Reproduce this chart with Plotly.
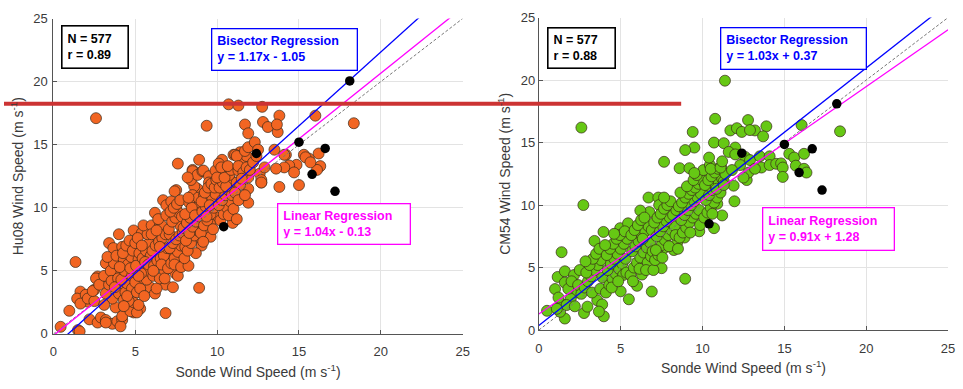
import plotly.graph_objects as go

# ---------------- data ----------------
# Left panel: Sonde vs Hu08
sonde_hu = [
    0.44, 1.5, 0.97, 1.35, 1.65, 1.45, 1.97, 2.1, 2.5, 2.7, 1.6, 2.2, 2.7, 2.9, 1.65, 2.1, 2.5, 2.4, 2.6, 2.8,
    3.3, 3.2, 3.4, 3.66, 3.9, 4.0, 3.2, 3.6, 3.2, 3.9, 3.8, 3.6, 4.0, 3.2, 3.4, 3.1, 3.5, 3.7, 3.3, 3.85, 3.55, 3.95, 3.1, 3.75,
    4.0, 4.2, 4.3, 4.6, 4.3, 4.9, 4.2, 4.1, 4.2, 4.7, 4.9, 4.6, 4.4, 4.5, 4.8, 4.15, 4.35, 4.55, 4.75, 4.25, 4.45, 4.65, 4.85, 4.05, 4.5, 4.8, 4.3, 4.7,
    4.9, 5.4, 5.0, 5.3, 5.1, 5.2, 5.2, 5.6, 5.0, 5.9, 5.1, 5.3, 5.5, 5.7, 5.8, 5.05, 5.25, 5.45, 5.65, 5.85, 5.15, 5.35, 5.55, 5.75, 5.95, 5.4, 5.6, 5.8, 5.2, 5.5,
    6.85, 6.2, 6.85, 6.1, 6.0, 6.5, 7.05, 6.7, 6.2, 6.9, 6.6, 6.0, 6.3, 6.5, 6.8, 6.15, 6.35, 6.55, 6.75, 6.95, 6.05, 6.25, 6.45, 6.65, 6.85, 6.4, 6.6, 6.8, 6.3, 6.9, 6.1, 6.5,
    7.3, 7.45, 7.6, 7.1, 7.75, 7.95, 7.6, 7.5, 7.4, 7.2, 7.5, 7.0, 7.2, 7.4, 7.6, 7.8, 7.1, 7.3, 7.5, 7.7, 7.9, 7.05, 7.25, 7.45, 7.65, 7.85, 7.15, 7.35, 7.55, 7.75, 7.95, 7.4, 7.8,
    8.25, 8.05, 8.9, 8.5, 8.8, 8.5, 8.6, 8.5, 8.3, 8.95, 9.05, 8.7, 8.0, 8.2, 8.4, 8.6, 8.8, 8.1, 8.3, 8.5, 8.7, 8.9, 8.15, 8.35, 8.55, 8.75, 8.95, 8.05, 8.45, 8.85, 8.25, 8.65, 8.4, 8.8,
    9.1, 9.9, 9.16, 9.5, 9.5, 9.9, 9.2, 9.7, 9.8, 9.85, 9.6, 9.2, 9.6, 9.36, 9.0, 9.2, 9.4, 9.6, 9.8, 9.1, 9.3, 9.5, 9.7, 9.9, 9.05, 9.25, 9.45, 9.65, 9.85, 9.35, 9.75, 9.15, 9.55, 9.95,
    10.3, 10.1, 10.5, 10.7, 10.9, 10.7, 10.9, 10.95, 10.2, 10.4, 10.6, 10.8, 10.1, 10.3, 10.5, 10.7, 10.9, 10.15, 10.35, 10.55, 10.75, 10.0, 10.45, 10.85, 10.25, 10.65, 10.7, 11.0,
    11.0, 11.4, 11.1, 11.5, 11.8, 11.3, 11.9, 11.9, 11.2, 11.2, 11.3, 11.7, 11.9, 11.2, 11.6, 11.4, 11.1, 11.5, 11.8, 11.3, 11.7, 12.6, 12.7, 12.7, 11.9, 12.0, 12.2, 12.4,
    2.6, 11.3, 12.75, 11.7, 11.9, 12.8, 13.1, 13.8, 13.7, 16.0, 18.35, 8.9, 13.5, 14.2, 15.3, 16.2, 15.6, 16.3, 16.1, 14.85, 14.4, 14.1, 14.7, 15.0, 13.8, 12.7, 12.3, 12.5, 13.65, 14.1, 13.6, 12.9, 15.4, 15.7, 8.2,
]
hu08 = [
    0.56, 0.3, 1.83, 5.7, 3.35, 2.8, 3.1, 2.55, 3.5, 4.55, 0.2, 1.15, 0.9, 1.3, 2.4, 2.8, 2.6, 3.4, 4.4, 3.9,
    4.5, 5.6, 7.2, 6.8, 4.9, 3.5, 1.1, 0.8, 0.9, 1.0, 2.1, 2.8, 3.2, 3.2, 3.9, 4.6, 5.0, 5.6, 6.1, 6.2, 4.2, 4.4, 2.3, 3.7,
    7.9, 6.9, 5.9, 4.8, 2.7, 1.7, 1.1, 0.6, 1.4, 1.8, 2.5, 2.6, 3.3, 4.0, 3.6, 4.3, 5.0, 5.5, 6.1, 6.4, 7.0, 7.4, 6.6, 5.3, 3.0, 4.6, 2.2, 5.2,
    8.2, 8.0, 7.2, 2.0, 1.7, 2.3, 5.9, 5.2, 4.1, 3.7, 3.3, 3.6, 4.4, 4.3, 5.0, 5.4, 6.4, 6.0, 6.6, 7.2, 7.6, 4.8, 3.0, 7.9, 6.2, 7.0, 5.7, 5.5, 4.6, 8.6,
    1.65, 3.2, 3.9, 4.6, 8.6, 8.6, 6.4, 10.6, 9.6, 10.2, 8.6, 7.9, 3.6, 4.4, 5.0, 5.4, 5.8, 6.0, 6.2, 6.8, 6.6, 7.0, 7.3, 7.6, 7.9, 9.1, 5.5, 4.4, 8.2, 9.4, 5.0, 6.9,
    3.7, 4.8, 4.6, 7.9, 8.6, 6.0, 13.5, 11.4, 11.3, 10.5, 9.9, 5.2, 5.6, 6.0, 6.5, 7.0, 6.8, 7.2, 7.5, 7.8, 8.0, 8.3, 8.9, 9.2, 9.6, 9.3, 9.7, 10.0, 10.3, 10.6, 8.4, 5.5, 5.3,
    5.4, 6.9, 3.65, 13.0, 11.5, 12.9, 11.7, 11.0, 10.4, 7.6, 7.0, 6.4, 6.0, 6.6, 7.2, 7.8, 8.2, 7.4, 8.0, 8.5, 8.9, 9.3, 8.8, 9.2, 9.6, 10.0, 10.4, 9.5, 10.0, 10.8, 10.8, 9.4, 12.2, 12.6,
    12.9, 12.8, 12.95, 12.5, 12.0, 12.95, 11.0, 11.3, 10.4, 9.3, 8.7, 8.3, 7.7, 16.5, 8.0, 8.6, 9.0, 9.5, 10.0, 9.7, 10.1, 10.5, 10.8, 11.1, 10.5, 11.2, 11.6, 11.9, 11.6, 9.3, 8.3, 7.3, 10.2, 12.2,
    13.8, 13.5, 12.95, 12.1, 12.1, 18.2, 9.9, 8.8, 9.0, 9.5, 10.0, 10.5, 10.2, 10.6, 11.0, 11.4, 11.0, 11.6, 12.0, 11.7, 12.6, 12.4, 12.4, 13.0, 13.2, 13.3, 9.4, 9.9,
    14.2, 14.4, 14.2, 13.5, 14.1, 12.95, 10.4, 11.5, 9.1, 14.1, 13.3, 14.5, 12.4, 12.0, 12.8, 11.8, 11.2, 12.3, 13.2, 10.6, 11.0, 12.7, 12.0, 12.2, 14.8, 13.0, 13.6, 14.1,
    17.1, 18.1, 18.0, 16.6, 15.9, 16.8, 16.4, 17.3, 16.0, 17.3, 16.7, 13.8, 14.6, 14.2, 14.2, 14.3, 13.9, 13.3, 13.0, 13.4, 13.35, 13.2, 12.8, 11.8, 11.65, 12.0, 15.2, 14.6, 16.6, 14.2, 13.1, 13.2, 14.0, 13.6, 12.4,
]

# Right panel: Sonde vs CM54
sonde_cm = [
    0.5, 0.99, 1.15, 1.39, 1.59, 1.59, 1.4, 1.3, 1.59, 2.15, 2.35, 1.95, 1.2, 1.8, 2.0, 2.4, 1.7, 2.2, 2.5, 1.1,
    2.72, 2.76, 2.97, 3.57, 3.87, 3.97, 3.67, 3.4, 3.95, 2.6, 2.8, 3.0, 3.2, 3.4, 3.6, 3.8, 2.9, 3.1, 3.3, 3.5, 3.7, 3.9, 3.25, 3.75, 2.85,
    4.97, 5.45, 5.5, 5.0, 4.1, 4.3, 4.5, 4.7, 4.9, 5.1, 5.3, 4.2, 4.4, 4.6, 4.8, 5.0, 5.2, 5.4, 4.15, 4.35, 4.55, 4.75, 4.95, 5.15, 5.35, 4.05, 4.45, 4.85, 5.25, 4.6,
    6.0, 6.9, 6.3, 6.75, 6.2, 6.7, 5.6, 5.8, 6.0, 6.2, 6.4, 6.6, 6.8, 5.7, 5.9, 6.1, 6.3, 6.5, 6.7, 6.9, 5.65, 5.85, 6.05, 6.25, 6.45, 6.65, 6.85, 5.75, 6.15, 6.55, 6.95, 6.35,
    7.3, 7.35, 8.0, 7.6, 7.5, 7.0, 7.1, 7.3, 7.5, 7.7, 7.9, 8.1, 8.3, 7.2, 7.4, 7.6, 7.8, 8.0, 8.2, 8.4, 7.05, 7.25, 7.45, 7.65, 7.85, 8.05, 8.25, 8.45, 7.15, 7.55, 7.95, 8.35, 7.65,
    8.94, 8.9, 8.5, 9.8, 8.6, 8.8, 9.0, 9.2, 9.4, 9.6, 9.8, 8.7, 8.9, 9.1, 9.3, 9.5, 9.7, 9.9, 8.55, 8.75, 8.95, 9.15, 9.35, 9.55, 9.75, 9.95, 8.65, 9.05, 9.45, 9.85, 9.25, 9.65,
    11.2, 11.95, 10.9, 10.7, 10.1, 10.3, 10.5, 10.7, 10.9, 11.1, 10.2, 10.4, 10.6, 10.8, 11.0, 11.2, 10.15, 10.35, 10.55, 10.75, 10.95, 11.15, 10.05, 10.45, 10.85, 11.3, 10.6, 11.4,
    2.6, 11.37, 10.77, 12.78, 9.4, 9.5, 8.94, 7.65, 8.6, 9.2, 9.5, 10.7, 11.3, 11.7, 12.1, 12.4, 13.2, 12.9, 13.9, 13.7, 12.0, 11.6, 12.6, 12.9, 13.5, 14.1, 13.6, 14.1, 14.5, 14.8,
    15.3, 15.6, 15.7, 16.2, 16.05, 18.4, 14.9, 14.9, 16.2, 16.35, 12.7, 11.9, 11.3, 10.4, 10.5, 11.1, 11.2, 12.0, 12.3, 12.8, 13.2, 11.8, 12.5,
]
cm54 = [
    1.54, 3.28, 4.25, 6.23, 4.7, 0.92, 2.08, 1.46, 3.8, 4.4, 3.0, 2.5, 2.6, 3.3, 3.9, 3.6, 2.0, 1.9, 4.8, 1.7,
    10.0, 1.36, 1.87, 2.38, 2.05, 1.1, 1.48, 7.13, 7.85, 2.9, 3.4, 3.9, 4.3, 4.8, 5.2, 5.6, 4.6, 5.2, 5.7, 6.1, 6.5, 4.2, 3.0, 3.3, 5.5,
    8.15, 8.54, 2.46, 3.1, 3.0, 3.6, 4.1, 4.5, 4.9, 5.3, 5.7, 4.8, 5.3, 5.7, 6.1, 6.5, 6.9, 7.3, 6.0, 6.5, 6.9, 7.3, 7.6, 4.4, 4.6, 6.8, 3.4, 3.9, 7.9, 7.7,
    3.54, 3.08, 4.44, 9.44, 9.56, 10.6, 4.4, 5.0, 5.4, 5.8, 6.2, 6.6, 7.0, 6.3, 6.7, 7.1, 7.5, 7.9, 8.3, 8.0, 7.6, 8.0, 8.4, 8.8, 9.0, 5.4, 5.9, 3.9, 4.9, 4.8, 6.3, 7.3,
    10.6, 10.0, 9.4, 6.5, 4.95, 4.8, 5.6, 6.0, 6.8, 7.2, 7.6, 8.0, 8.3, 7.5, 7.9, 8.3, 8.7, 9.0, 9.2, 9.6, 8.6, 9.0, 9.3, 9.7, 10.0, 10.3, 6.4, 7.0, 6.4, 5.8, 6.7, 7.6, 10.6,
    4.1, 7.4, 6.5, 7.9, 7.4, 7.8, 8.2, 8.6, 9.0, 9.3, 9.6, 8.8, 9.2, 9.6, 10.0, 10.3, 10.6, 10.9, 9.9, 10.2, 10.6, 10.9, 11.2, 11.4, 11.7, 12.0, 11.0, 11.5, 12.0, 8.4, 7.8, 12.4,
    9.17, 10.3, 10.1, 8.15, 9.0, 9.4, 9.8, 10.2, 10.6, 11.0, 10.4, 10.8, 11.2, 11.5, 11.8, 12.1, 11.6, 12.0, 12.3, 12.6, 12.9, 13.0, 12.8, 13.2, 11.3, 11.9, 9.3, 12.5,
    16.2, 19.95, 16.9, 16.8, 15.85, 14.6, 14.4, 13.46, 12.95, 12.95, 12.56, 15.0, 14.95, 15.97, 16.15, 15.85, 15.97, 16.0, 16.3, 15.5, 14.6, 14.25, 13.85, 13.6, 13.9, 13.9, 13.0, 13.2, 13.3, 13.33,
    14.1, 13.8, 13.15, 14.1, 16.4, 15.9, 13.0, 12.25, 12.9, 12.6, 12.0, 11.55, 11.6, 13.8, 12.9, 13.0, 13.5, 14.05, 13.2, 12.6, 12.9, 12.8, 12.2,
]

# Highlighted (black) cases
sonde_black = [18.1, 15.0, 12.4, 16.6, 15.8, 17.2, 10.4]
hu08_black = [20.05, 15.2, 14.3, 14.7, 12.65, 11.3, 8.5]
sonde_black_cm = [18.2, 15.0, 12.4, 16.7, 15.9, 17.3, 10.4]
cm54_black = [18.1, 14.85, 14.15, 14.5, 12.6, 11.2, 8.5]

# Regression coefficients (slope, intercept)
bisector_hu = (1.17, -1.05)
linear_hu = (1.04, -0.13)
bisector_cm = (1.03, 0.37)
linear_cm = (0.91, 1.28)
stats_hu = ("577", "0.89")
stats_cm = ("577", "0.88")

ticks = [0, 5, 10, 15, 20, 25]
line_x = [0, 25]

# ---------------- figure ----------------
W, H = 963, 389
FONT = "Liberation Sans, Arial, sans-serif"
ORANGE = "#F26522"
GREEN = "#66C814"

fig = go.Figure()


def add_panel(xs, ys, bx, by, bis, lin, color, xa, ya):
    fig.add_trace(go.Scatter(
        x=xs, y=ys, mode="markers", xaxis=xa, yaxis=ya,
        marker=dict(size=11, color=color, line=dict(color="#3a2a1a", width=0.7)),
        showlegend=False, hoverinfo="skip"))
    fig.add_trace(go.Scatter(
        x=line_x, y=line_x, mode="lines", xaxis=xa, yaxis=ya,
        line=dict(color="#777777", width=1, dash="3px,2px"), showlegend=False))
    fig.add_trace(go.Scatter(
        x=line_x, y=[lin[0] * v + lin[1] for v in line_x], mode="lines", xaxis=xa, yaxis=ya,
        line=dict(color="#FF00FF", width=1.3), showlegend=False))
    fig.add_trace(go.Scatter(
        x=line_x, y=[bis[0] * v + bis[1] for v in line_x], mode="lines", xaxis=xa, yaxis=ya,
        line=dict(color="#0000FF", width=1.3), showlegend=False))
    fig.add_trace(go.Scatter(
        x=bx, y=by, mode="markers", xaxis=xa, yaxis=ya,
        marker=dict(size=9.5, color="black", line=dict(width=0)),
        showlegend=False, hoverinfo="skip"))


add_panel(sonde_hu, hu08, sonde_black, hu08_black, bisector_hu, linear_hu, ORANGE, "x", "y")
add_panel(sonde_cm, cm54, sonde_black_cm, cm54_black, bisector_cm, linear_cm, GREEN, "x2", "y2")

axis_common = dict(
    range=[0, 25], tickvals=ticks, showgrid=True, gridcolor="#e3e3e3", gridwidth=1,
    zeroline=False, showline=True, linecolor="#555555", linewidth=1,
    ticks="inside", ticklen=4, tickcolor="#555555",
    tickfont=dict(family=FONT, size=13, color="#3a3a3a"),
)
TITLE_FONT = dict(size=14, color="#3a3a3a")

fig.update_layout(
    width=W, height=H,
    margin=dict(l=0, r=0, t=0, b=0),
    paper_bgcolor="white", plot_bgcolor="white",
    font=dict(family=FONT),
    xaxis=dict(domain=[50 / W, 464 / W], anchor="y", ticklabelstandoff=6,
               title=dict(text="Sonde Wind Speed (m s<sup>-1</sup>)", font=TITLE_FONT, standoff=8),
               **axis_common),
    yaxis=dict(domain=[1 - 340 / H, 1 - 12 / H], anchor="x", ticklabelstandoff=2,
               title=dict(text="Hu08 Wind Speed (m s<sup>-1</sup>)", font=TITLE_FONT, standoff=6),
               **axis_common),
    xaxis2=dict(domain=[541 / W, 955 / W], anchor="y2", ticklabelstandoff=6,
                title=dict(text="Sonde Wind Speed (m s<sup>-1</sup>)", font=TITLE_FONT, standoff=8),
                **axis_common),
    yaxis2=dict(domain=[1 - 336 / H, 1 - 11 / H], anchor="x2",
                title=dict(text="CM54 Wind Speed (m s<sup>-1</sup>)", font=TITLE_FONT, standoff=6),
                **axis_common),
)


def box(left, top, w, h, text, color, bw=1.3):
    pad = 5
    fig.add_annotation(
        xref="paper", yref="paper", x=left / W, y=1 - top / H,
        xanchor="left", yanchor="top", showarrow=False,
        text=text, align="left", valign="middle",
        width=w - 2 * pad - 2, height=h - 2 * pad - 2,
        bordercolor=color, borderwidth=bw, borderpad=pad, bgcolor="white",
        font=dict(family=FONT, size=12.5, color=color))


box(58, 19, 67, 43, f"<b>N = {stats_hu[0]}<br>r = {stats_hu[1]}</b>", "black", 1.6)
box(209, 22, 146, 42, f"<b>Bisector Regression<br>y = {bisector_hu[0]:.2f}x - {abs(bisector_hu[1]):.2f}</b>", "#0000FF")
box(276, 204, 133, 41, f"<b>Linear Regression<br>y = {linear_hu[0]:.2f}x - {abs(linear_hu[1]):.2f}</b>", "#FF00FF")
box(549, 21, 68, 41, f"<b>N = {stats_cm[0]}<br>r = {stats_cm[1]}</b>", "black", 1.6)
box(724, 21, 146, 42, f"<b>Bisector Regression<br>y = {bisector_cm[0]:.2f}x + {bisector_cm[1]:.2f}</b>", "#0000FF")
box(767, 208, 132, 43, f"<b>Linear Regression<br>y = {linear_cm[0]:.2f}x + {linear_cm[1]:.2f}</b>", "#FF00FF")

# red overlay bar seen across the image
fig.add_shape(type="line", xref="paper", yref="paper",
              x0=0, x1=685 / W, y0=1 - 100.7 / H, y1=1 - 100.7 / H,
              line=dict(color="#CC3333", width=4), layer="above")

fig.write_html("out.html")
